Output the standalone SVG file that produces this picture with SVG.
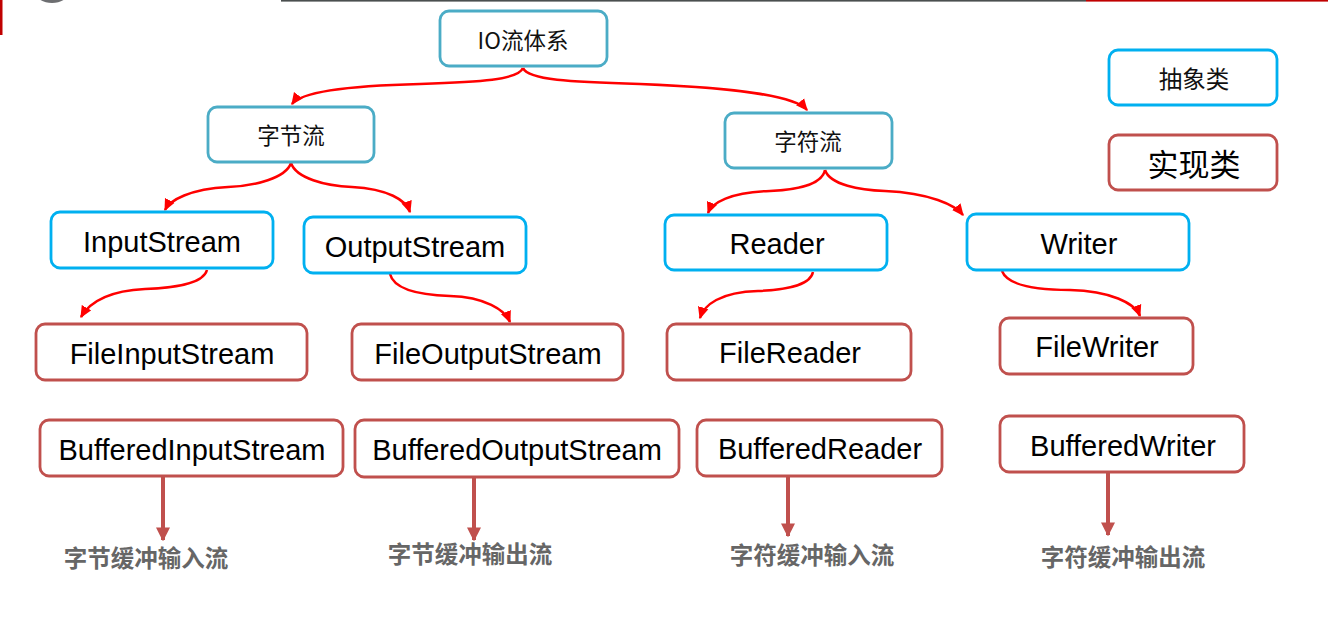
<svg xmlns="http://www.w3.org/2000/svg" width="1328" height="624" viewBox="0 0 1328 624">
<style>
.box{fill:#fff;stroke-width:2.8}
.cat{stroke:#4bacc6}
.abs{stroke:#00b0f0}
.imp{stroke:#c0504d}
.en{font-family:"Liberation Sans",Arial,sans-serif;font-size:29px;fill:#000;text-anchor:middle;dominant-baseline:central}
.zh{font-family:"Noto Sans CJK SC",sans-serif;font-size:22.5px;fill:#111;text-anchor:middle;dominant-baseline:central}
.lbl{font-family:"Noto Sans CJK SC",sans-serif;font-size:23.5px;fill:#666;text-anchor:middle;dominant-baseline:central;font-weight:bold}
.red{fill:none;stroke:#ff0000;stroke-width:2.5;marker-end:url(#ra)}
.down{fill:none;stroke:#c0504d;stroke-width:4;marker-end:url(#ba)}
</style>
<defs>
<marker id="ra" markerUnits="userSpaceOnUse" markerWidth="12" markerHeight="12" viewBox="0 0 10 10" refX="9" refY="5" orient="auto">
<path d="M0,0.5 L10,5 L0,9.5 Z" fill="#ff0000"/>
</marker>
<marker id="ba" markerUnits="userSpaceOnUse" markerWidth="14" markerHeight="16" viewBox="0 0 10 10" refX="9" refY="5" orient="auto">
<path d="M0,0 L10,5 L0,10 Z" fill="#c0504d"/>
</marker>
</defs>
<rect width="1328" height="624" fill="#fff"/>
<g id="chrome">
<rect x="0" y="0" width="2.5" height="35" fill="#c00000"/>
<ellipse cx="52" cy="-10" rx="18" ry="13" fill="#6d6e71"/>
<rect x="281" y="0" width="805" height="1.6" fill="#4a4f4f"/>
<rect x="1086" y="0" width="242" height="1.6" fill="#c00000"/>
</g>
<g id="connectors">
<path class="red" d="M523,68 C518,80 480,82 420,84 C340,86 300,93 292,104"/>
<path class="red" d="M523,68 C528,80 570,82 640,84 C740,88 795,96 807,110"/>
<path class="red" d="M291,163 C286,178 255,186 228,187 C190,189 170,200 165,210"/>
<path class="red" d="M291,163 C296,178 325,186 352,187 C388,189 406,200 410,212"/>
<path class="red" d="M207,270 C203,285 170,288 145,289 C105,291 88,305 81,317"/>
<path class="red" d="M390,274 C394,290 420,295 450,296 C485,297 505,310 510,322"/>
<path class="red" d="M825,170 C822,185 795,190 770,191 C730,192 712,203 708,213"/>
<path class="red" d="M825,170 C830,185 860,190 885,191 C930,193 955,205 963,215"/>
<path class="red" d="M813,272 C810,287 780,290 758,291 C720,292 704,305 700,318"/>
<path class="red" d="M1002,271 C1008,287 1040,290 1070,290 C1110,291 1135,303 1140,316"/>
<path class="down" d="M163,477 L163,540"/>
<path class="down" d="M474,474 L474,540"/>
<path class="down" d="M788,477 L788,536"/>
<path class="down" d="M1108,473 L1108,535"/>
</g>
<g id="io"><rect class="box cat" x="440" y="11" width="167" height="55" rx="9"/><text class="zh" x="523" y="39">IO流体系</text></g>
<g id="byte"><rect class="box cat" x="208" y="107" width="166" height="55" rx="9"/><text class="zh" x="291" y="134">字节流</text></g>
<g id="char"><rect class="box cat" x="725" y="113" width="167" height="55" rx="9"/><text class="zh" x="808" y="140">字符流</text></g>
<g id="legend-abstract"><rect class="box abs" x="1109" y="50" width="168" height="55" rx="9"/><text class="zh" x="1194" y="78" style="font-size:23.5px">抽象类</text></g>
<g id="legend-impl"><rect class="box imp" x="1109" y="135" width="168" height="55" rx="9"/><text class="zh" x="1194" y="162" style="font-size:31px;fill:#000">实现类</text></g>
<g id="inputstream"><rect class="box abs" x="51" y="212" width="222" height="56" rx="9"/><text class="en" x="162" y="242">InputStream</text></g>
<g id="outputstream"><rect class="box abs" x="304" y="217" width="222" height="56" rx="9"/><text class="en" x="415" y="247">OutputStream</text></g>
<g id="reader"><rect class="box abs" x="665" y="215" width="222" height="55" rx="9"/><text class="en" x="777" y="244">Reader</text></g>
<g id="writer"><rect class="box abs" x="967" y="214" width="222" height="56" rx="9"/><text class="en" x="1079" y="244">Writer</text></g>
<g id="fileinputstream"><rect class="box imp" x="36" y="324" width="271" height="56" rx="9"/><text class="en" x="172" y="354">FileInputStream</text></g>
<g id="fileoutputstream"><rect class="box imp" x="352" y="324" width="271" height="56" rx="9"/><text class="en" x="488" y="354">FileOutputStream</text></g>
<g id="filereader"><rect class="box imp" x="667" y="324" width="244" height="56" rx="9"/><text class="en" x="790" y="353">FileReader</text></g>
<g id="filewriter"><rect class="box imp" x="1000" y="318" width="193" height="56" rx="9"/><text class="en" x="1097" y="347">FileWriter</text></g>
<g id="bufferedinputstream"><rect class="box imp" x="40" y="420" width="303" height="56" rx="9"/><text class="en" x="192" y="450">BufferedInputStream</text></g>
<g id="bufferedoutputstream"><rect class="box imp" x="355" y="420" width="324" height="57" rx="9"/><text class="en" x="517" y="450">BufferedOutputStream</text></g>
<g id="bufferedreader"><rect class="box imp" x="697" y="420" width="245" height="56" rx="9"/><text class="en" x="820" y="449">BufferedReader</text></g>
<g id="bufferedwriter"><rect class="box imp" x="1000" y="416" width="244" height="56" rx="9"/><text class="en" x="1123" y="446">BufferedWriter</text></g>
<g id="labels">
<text class="lbl" x="146" y="557">字节缓冲输入流</text>
<text class="lbl" x="470" y="553">字节缓冲输出流</text>
<text class="lbl" x="812" y="554">字符缓冲输入流</text>
<text class="lbl" x="1123" y="556">字符缓冲输出流</text>
</g>
</svg>
